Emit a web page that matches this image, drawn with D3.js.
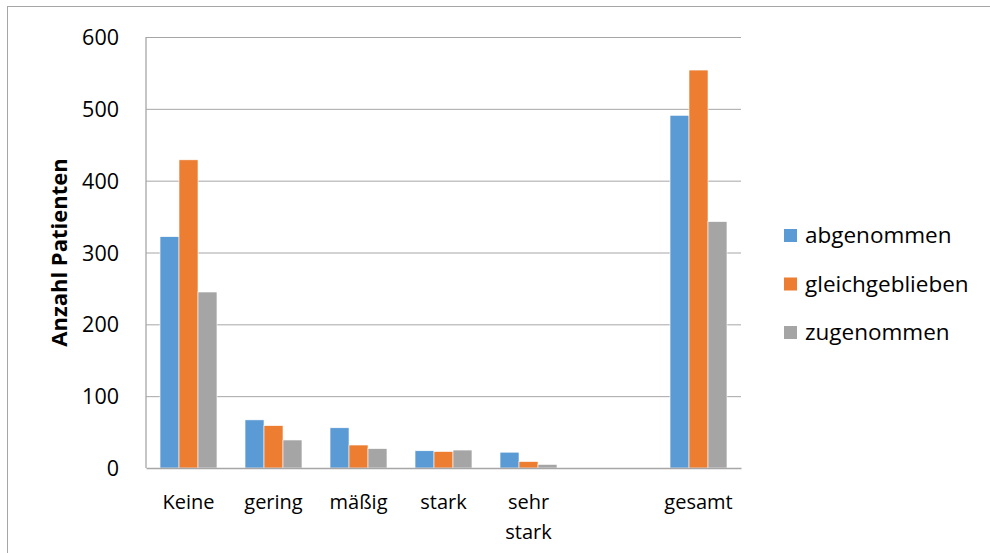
<!DOCTYPE html>
<meta charset="utf-8" />
<head>
  <script src="https://cdn.jsdelivr.net/npm/d3@7/dist/d3.min.js"></script>
  <title>Anzahl Patienten</title>
  <style>
    body { margin: 0; background: #fff; }
    svg, svg text { font-family: "Open Sans", sans-serif; }
    .axis--y path { display: none; }
    .axis--y .tick line { stroke: #a6a6a6; }
    .axis--y text, .axis--x text { fill: #000; }
  </style>
</head>
<body>
  <svg id="chart" width="990" height="553"></svg>
</body>

<script>
  const categories = ["Keine", "gering", "mäßig", "stark", "sehr stark", "", "gesamt"];
  const seriesNames = ["abgenommen", "gleichgeblieben", "zugenommen"];
  const abgenommen = [322, 67, 56, 24, 22, null, 491];
  const gleichgeblieben = [429, 59, 32, 23, 9, null, 554];
  const zugenommen = [245, 39, 27, 25, 5, null, 343];
  const yTicks = [0, 100, 200, 300, 400, 500, 600];
  const colors = ["#5b9bd5", "#ed7d31", "#a5a5a5"];

  const series = [abgenommen, gleichgeblieben, zugenommen];

  const svg = d3.select("#chart");
  const margin = { top: 37, left: 146, right: 249, bottom: 85 };
  const width = +svg.attr("width");
  const height = +svg.attr("height");

  // outer chart border (Excel chart area)
  svg.append("rect")
    .attr("x", 7.5).attr("y", 6.5)
    .attr("width", 1000).attr("height", 600)
    .attr("fill", "none").attr("stroke", "#a6a6a6");

  const x = d3.scaleBand()
    .domain(categories)
    .range([margin.left, width - margin.right])
    .paddingInner(0.33)
    .paddingOuter(0.165);

  const xs = d3.scaleBand()
    .domain(seriesNames)
    .range([0, x.bandwidth()]);

  const y = d3.scaleLinear()
    .domain([0, 600])
    .range([height - margin.bottom, margin.top]);

  const yAxis = svg.append("g")
    .attr("class", "axis--y")
    .attr("transform", `translate(${margin.left},0)`)
    .call(d3.axisLeft(y).tickValues(yTicks).tickSize(-(width - margin.right - margin.left)).tickPadding(27))
    .attr("font-family", null)
    .attr("font-size", 21.5);
  yAxis.selectAll("text").attr("dy", "0.35em");
  yAxis.selectAll(".tick").filter((d) => d === 0).select("line").remove();

  // bars
  series.forEach((vals, si) => {
    svg.append("g")
      .selectAll("rect")
      .data(vals.map((v, i) => ({ cat: categories[i], v })).filter((d) => d.v != null))
      .enter()
      .append("rect")
      .attr("x", (d) => x(d.cat) + xs(seriesNames[si]))
      .attr("width", xs.bandwidth())
      .attr("y", (d) => y(d.v))
      .attr("height", (d) => y(0) - y(d.v))
      .attr("fill", colors[si])
      .attr("stroke", "#fff")
      .attr("stroke-width", 0.6);
  });

  // value axis line + category axis line
  svg.append("line")
    .attr("x1", margin.left).attr("x2", margin.left)
    .attr("y1", y(600)).attr("y2", y(0))
    .attr("stroke", "#a6a6a6").attr("stroke-width", 1.3);

  const xAxis = svg.append("g")
    .attr("class", "axis--x")
    .attr("transform", `translate(0,${y(0)})`)
    .call(d3.axisBottom(x).tickSize(0).tickPadding(27))
    .attr("font-family", null)
    .attr("font-size", 20);
  xAxis.select("path").attr("stroke", "#a6a6a6").attr("stroke-width", 1.3);
  // Excel wraps labels that are wider than the bar group
  xAxis.selectAll("text")
    .each(function (d) {
      const t = d3.select(this);
      const words = d.split(" ");
      if (words.length > 1 && this.getComputedTextLength() > x.bandwidth()) {
        t.text(null);
        words.forEach((w, i) => {
          t.append("tspan").attr("x", 0).attr("dy", i === 0 ? "0.71em" : "1.5em").text(w);
        });
      }
    });

  // y title
  svg.append("text")
    .attr("transform", `translate(67,${(y(0) + y(600)) / 2}) rotate(-90)`)
    .attr("text-anchor", "middle")
    .style("font-size", "22px")
    .style("font-weight", "bold")
    .text("Anzahl Patienten");

  // legend
  const legend = svg.append("g").attr("class", "legend");
  legend.selectAll("rect")
    .data(seriesNames)
    .enter()
    .append("rect")
    .attr("x", 784)
    .attr("y", (d, i) => 229 + i * 48.5)
    .attr("width", 13)
    .attr("height", 13)
    .attr("fill", (d, i) => colors[i]);
  legend.selectAll("text")
    .data(seriesNames)
    .enter()
    .append("text")
    .attr("x", 805)
    .attr("y", (d, i) => 235.5 + i * 48.5)
    .attr("dy", "0.35em")
    .style("font-size", "22.5px")
    .text((d) => d);
</script>
